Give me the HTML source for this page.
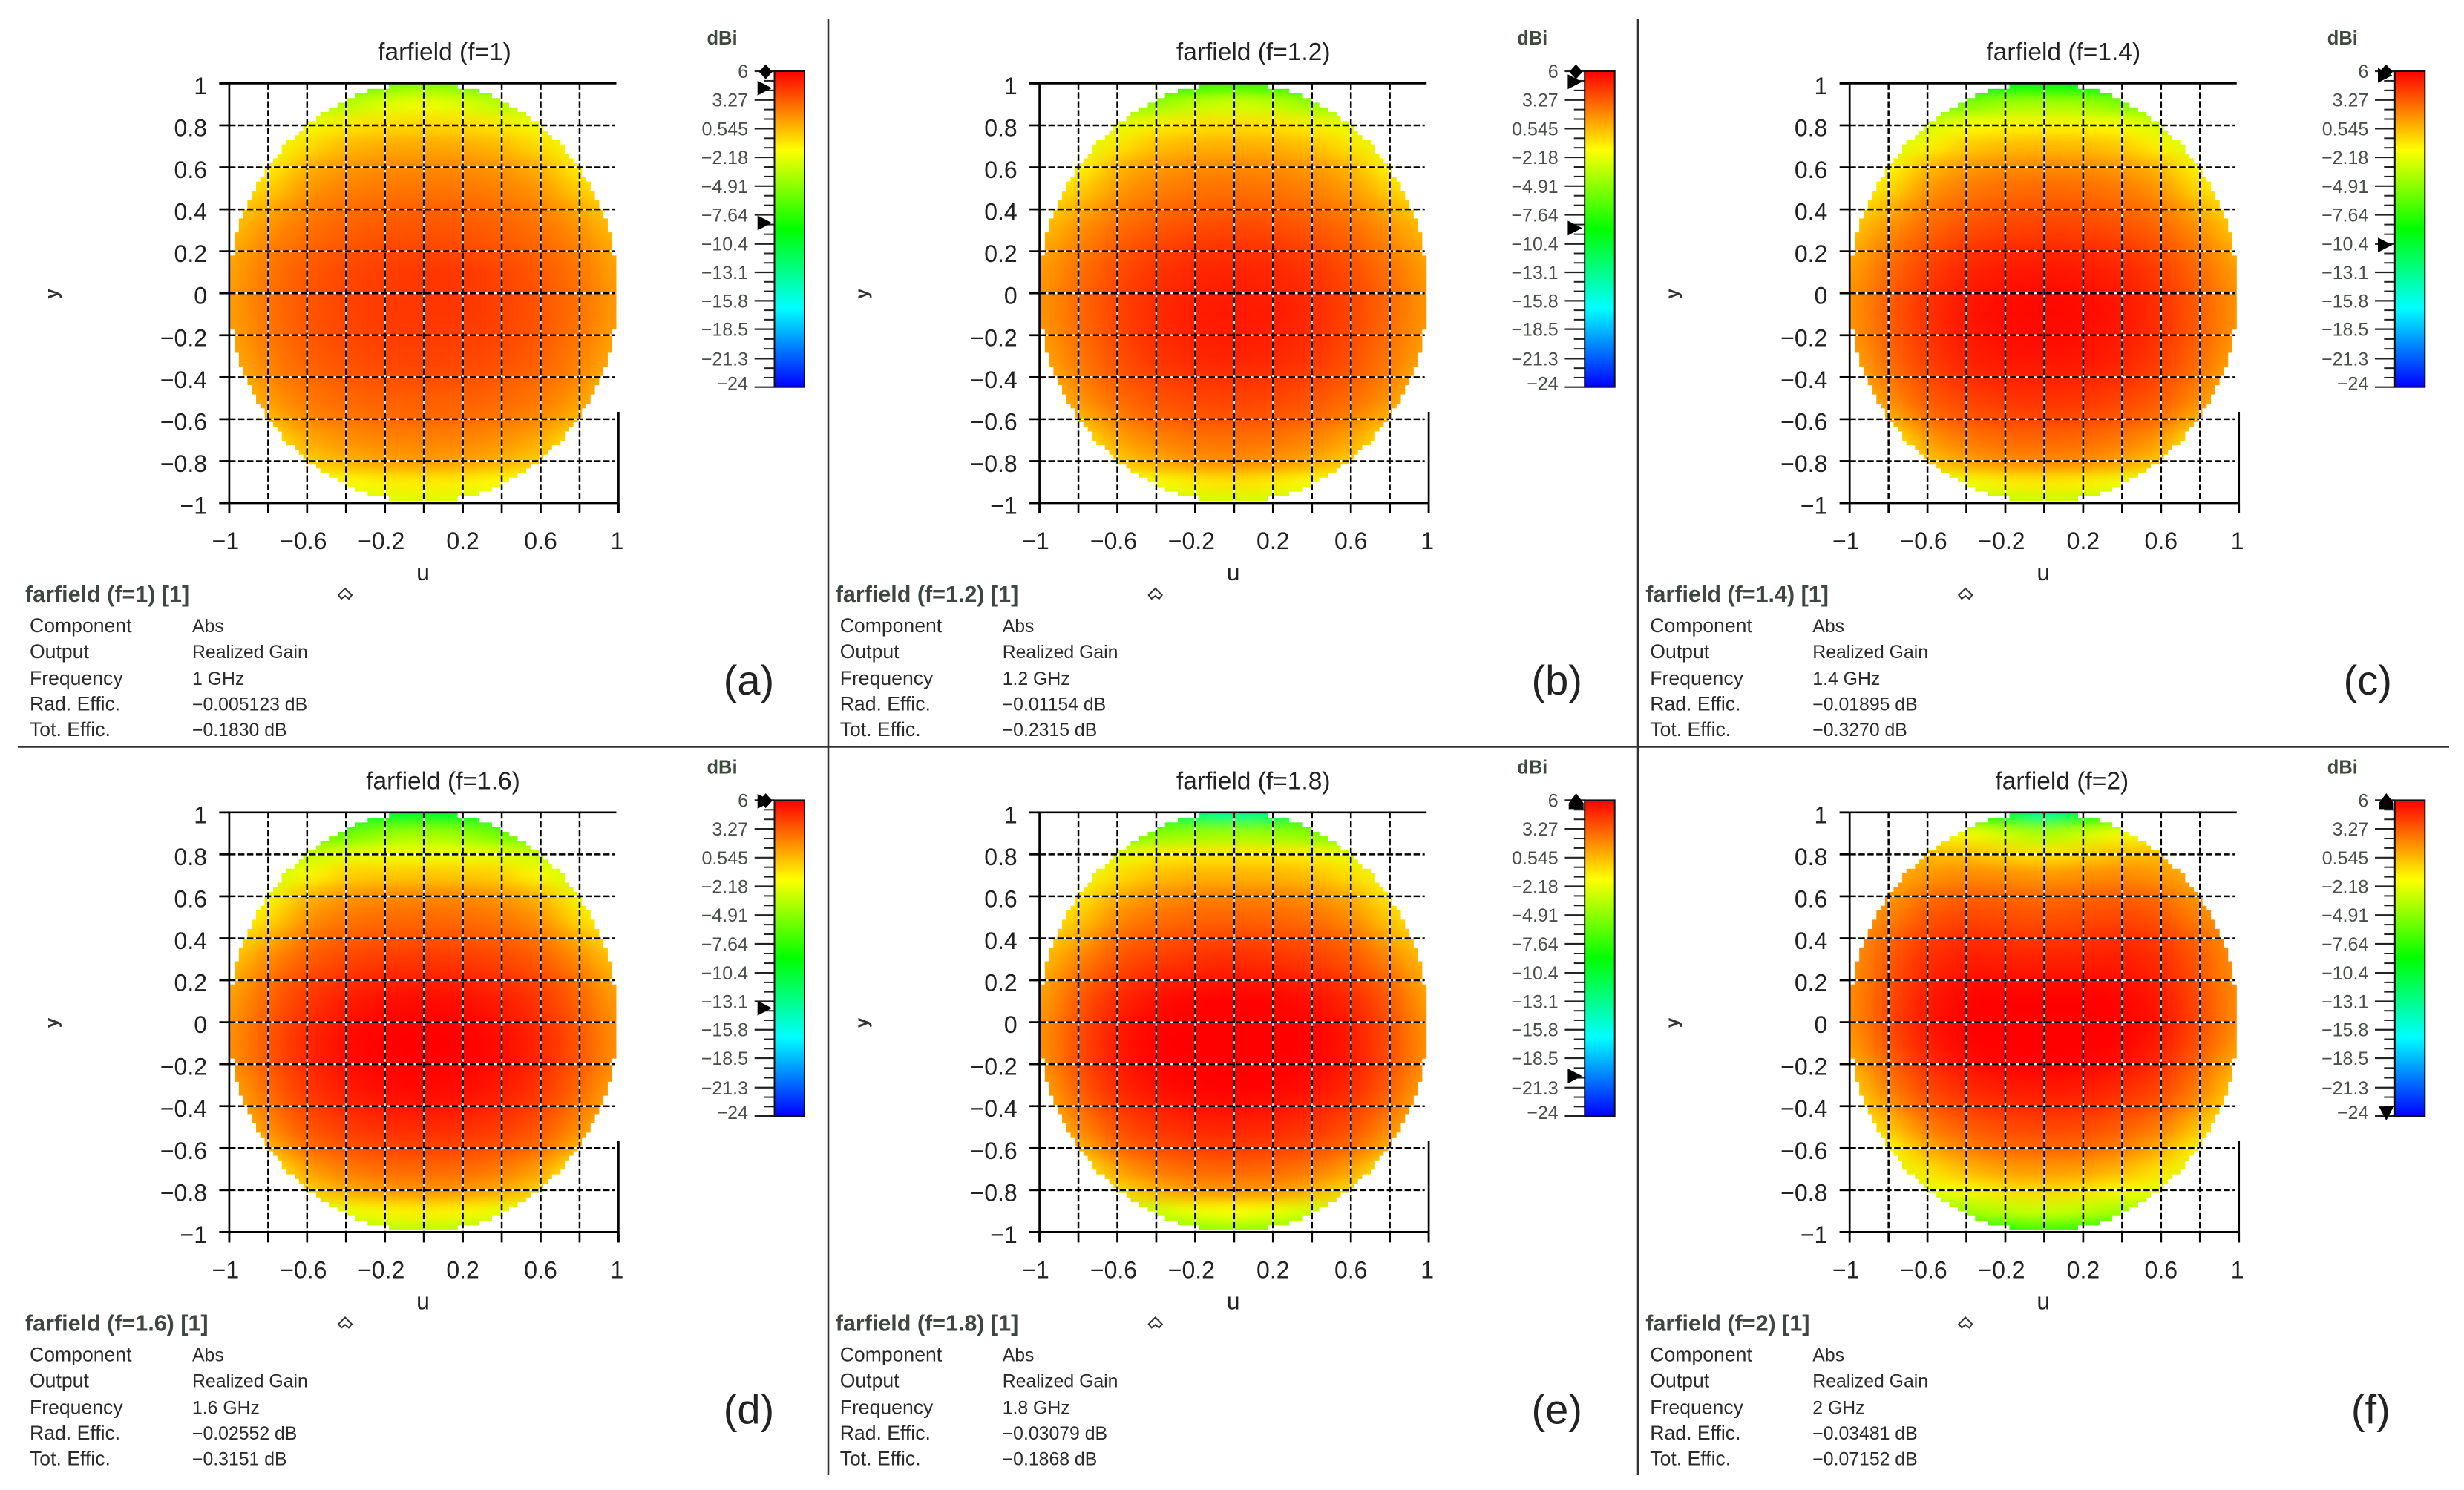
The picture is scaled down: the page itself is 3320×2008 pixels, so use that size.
<!DOCTYPE html>
<html lang="en">
<head>
<meta charset="utf-8">
<title>Farfield realized gain u-v maps, 1 to 2 GHz</title>
<style>
html,body{margin:0;padding:0;background:#fff;width:3320px;height:2008px;overflow:hidden}
svg{display:block}
text{font-family:"Liberation Sans",sans-serif}
.title{font-size:33.5px;fill:#222;text-anchor:middle}
.unit{font-size:25.5px;font-weight:bold;fill:#3f4a3f;text-anchor:middle}
.axis-name{font-size:32px;fill:#222;text-anchor:middle}
.axis-name-y{font-size:24px;font-weight:bold;fill:#333;text-anchor:middle}
.tick{font-size:32px;fill:#222}
.cb-tick{font-size:25px;fill:#4a4f4a;text-anchor:end}
.lg-title{font-size:30.5px;font-weight:bold;fill:#3f4540}
.lg{font-size:26.6px;fill:#2b2b2b}
.lg[x="259"]{font-size:24.8px}
.letter{font-size:56px;fill:#222;text-anchor:middle}
</style>
</head>
<body>
<svg id="figure" xmlns="http://www.w3.org/2000/svg" width="3320" height="2008" viewBox="0 0 3320 2008">
<defs>
  <filter id="smooth" filterUnits="userSpaceOnUse" x="180" y="-20" width="780" height="840" color-interpolation-filters="sRGB">
    <feGaussianBlur stdDeviation="24 9"/>
  </filter>
  <clipPath id="disc"><path id="disc-path" d=""/></clipPath>
  <linearGradient id="cb-gradient" x1="0" y1="0" x2="0" y2="1">
    <stop offset="0" stop-color="#ff0000"/><stop offset="0.25" stop-color="#ffff00"/><stop offset="0.5" stop-color="#00ff00"/><stop offset="0.75" stop-color="#00ffff"/><stop offset="1" stop-color="#0000ff"/>
  </linearGradient>
</defs>
<rect x="0" y="0" width="3320" height="2008" fill="#fff"/>

<g id="panel-a" transform="translate(0,0)">
  <text class="title" x="599" y="81">farfield (f=1)</text>
  <text class="unit" x="973" y="60">dBi</text>
  <text class="axis-name" x="570" y="782">u</text>
  <text class="axis-name-y" transform="translate(78,396) rotate(-90)">y</text>
  <text class="lg-title" x="34" y="811">farfield (f=1) [1]</text>
  <path d="M456 802 L465 793 L474 802 L470 807 L465 803 L460 807 Z" fill="none" stroke="#333" stroke-width="2"/>
  <text class="lg" x="40" y="852">Component</text><text class="lg" x="259" y="852">Abs</text>
  <text class="lg" x="40" y="887">Output</text><text class="lg" x="259" y="887">Realized Gain</text>
  <text class="lg" x="40" y="923">Frequency</text><text class="lg" x="259" y="923">1 GHz</text>
  <text class="lg" x="40" y="957.5">Rad. Effic.</text><text class="lg" x="259" y="957.5">−0.005123 dB</text>
  <text class="lg" x="40" y="992">Tot. Effic.</text><text class="lg" x="259" y="992">−0.1830 dB</text>
  <text class="letter" x="1009" y="936">(a)</text>
</g>

<g id="panel-b" transform="translate(1091.7,0)">
  <text class="title" x="597" y="81">farfield (f=1.2)</text>
  <text class="unit" x="973" y="60">dBi</text>
  <text class="axis-name" x="570" y="782">u</text>
  <text class="axis-name-y" transform="translate(78,396) rotate(-90)">y</text>
  <text class="lg-title" x="34" y="811">farfield (f=1.2) [1]</text>
  <path d="M456 802 L465 793 L474 802 L470 807 L465 803 L460 807 Z" fill="none" stroke="#333" stroke-width="2"/>
  <text class="lg" x="40" y="852">Component</text><text class="lg" x="259" y="852">Abs</text>
  <text class="lg" x="40" y="887">Output</text><text class="lg" x="259" y="887">Realized Gain</text>
  <text class="lg" x="40" y="923">Frequency</text><text class="lg" x="259" y="923">1.2 GHz</text>
  <text class="lg" x="40" y="957.5">Rad. Effic.</text><text class="lg" x="259" y="957.5">−0.01154 dB</text>
  <text class="lg" x="40" y="992">Tot. Effic.</text><text class="lg" x="259" y="992">−0.2315 dB</text>
  <text class="letter" x="1006" y="936">(b)</text>
</g>

<g id="panel-c" transform="translate(2183.3,0)">
  <text class="title" x="597" y="81">farfield (f=1.4)</text>
  <text class="unit" x="973" y="60">dBi</text>
  <text class="axis-name" x="570" y="782">u</text>
  <text class="axis-name-y" transform="translate(78,396) rotate(-90)">y</text>
  <text class="lg-title" x="34" y="811">farfield (f=1.4) [1]</text>
  <path d="M456 802 L465 793 L474 802 L470 807 L465 803 L460 807 Z" fill="none" stroke="#333" stroke-width="2"/>
  <text class="lg" x="40" y="852">Component</text><text class="lg" x="259" y="852">Abs</text>
  <text class="lg" x="40" y="887">Output</text><text class="lg" x="259" y="887">Realized Gain</text>
  <text class="lg" x="40" y="923">Frequency</text><text class="lg" x="259" y="923">1.4 GHz</text>
  <text class="lg" x="40" y="957.5">Rad. Effic.</text><text class="lg" x="259" y="957.5">−0.01895 dB</text>
  <text class="lg" x="40" y="992">Tot. Effic.</text><text class="lg" x="259" y="992">−0.3270 dB</text>
  <text class="letter" x="1007" y="936">(c)</text>
</g>

<g id="panel-d" transform="translate(0,982.4)">
  <text class="title" x="597" y="81">farfield (f=1.6)</text>
  <text class="unit" x="973" y="60">dBi</text>
  <text class="axis-name" x="570" y="782">u</text>
  <text class="axis-name-y" transform="translate(78,396) rotate(-90)">y</text>
  <text class="lg-title" x="34" y="811">farfield (f=1.6) [1]</text>
  <path d="M456 802 L465 793 L474 802 L470 807 L465 803 L460 807 Z" fill="none" stroke="#333" stroke-width="2"/>
  <text class="lg" x="40" y="852">Component</text><text class="lg" x="259" y="852">Abs</text>
  <text class="lg" x="40" y="887">Output</text><text class="lg" x="259" y="887">Realized Gain</text>
  <text class="lg" x="40" y="923">Frequency</text><text class="lg" x="259" y="923">1.6 GHz</text>
  <text class="lg" x="40" y="957.5">Rad. Effic.</text><text class="lg" x="259" y="957.5">−0.02552 dB</text>
  <text class="lg" x="40" y="992">Tot. Effic.</text><text class="lg" x="259" y="992">−0.3151 dB</text>
  <text class="letter" x="1009" y="936">(d)</text>
</g>

<g id="panel-e" transform="translate(1091.7,982.4)">
  <text class="title" x="597" y="81">farfield (f=1.8)</text>
  <text class="unit" x="973" y="60">dBi</text>
  <text class="axis-name" x="570" y="782">u</text>
  <text class="axis-name-y" transform="translate(78,396) rotate(-90)">y</text>
  <text class="lg-title" x="34" y="811">farfield (f=1.8) [1]</text>
  <path d="M456 802 L465 793 L474 802 L470 807 L465 803 L460 807 Z" fill="none" stroke="#333" stroke-width="2"/>
  <text class="lg" x="40" y="852">Component</text><text class="lg" x="259" y="852">Abs</text>
  <text class="lg" x="40" y="887">Output</text><text class="lg" x="259" y="887">Realized Gain</text>
  <text class="lg" x="40" y="923">Frequency</text><text class="lg" x="259" y="923">1.8 GHz</text>
  <text class="lg" x="40" y="957.5">Rad. Effic.</text><text class="lg" x="259" y="957.5">−0.03079 dB</text>
  <text class="lg" x="40" y="992">Tot. Effic.</text><text class="lg" x="259" y="992">−0.1868 dB</text>
  <text class="letter" x="1006" y="936">(e)</text>
</g>

<g id="panel-f" transform="translate(2183.3,982.4)">
  <text class="title" x="595" y="81">farfield (f=2)</text>
  <text class="unit" x="973" y="60">dBi</text>
  <text class="axis-name" x="570" y="782">u</text>
  <text class="axis-name-y" transform="translate(78,396) rotate(-90)">y</text>
  <text class="lg-title" x="34" y="811">farfield (f=2) [1]</text>
  <path d="M456 802 L465 793 L474 802 L470 807 L465 803 L460 807 Z" fill="none" stroke="#333" stroke-width="2"/>
  <text class="lg" x="40" y="852">Component</text><text class="lg" x="259" y="852">Abs</text>
  <text class="lg" x="40" y="887">Output</text><text class="lg" x="259" y="887">Realized Gain</text>
  <text class="lg" x="40" y="923">Frequency</text><text class="lg" x="259" y="923">2 GHz</text>
  <text class="lg" x="40" y="957.5">Rad. Effic.</text><text class="lg" x="259" y="957.5">−0.03481 dB</text>
  <text class="lg" x="40" y="992">Tot. Effic.</text><text class="lg" x="259" y="992">−0.07152 dB</text>
  <text class="letter" x="1011" y="936">(f)</text>
</g>

<line x1="1116" y1="26" x2="1116" y2="1988" stroke="#333" stroke-width="2.6"/>
<line x1="2207" y1="26" x2="2207" y2="1988" stroke="#333" stroke-width="2.6"/>
<line x1="24" y1="1006.5" x2="3300" y2="1006.5" stroke="#333" stroke-width="2.6"/>
</svg>

<script>
const uColumns = [-1,-0.8,-0.6,-0.4,-0.2,0,0.2,0.4,0.6,0.8,1];
const vRows = [1,0.9,0.8,0.7,0.6,0.5,0.4,0.3,0.2,0.1,0,-0.1,-0.2,-0.3,-0.4,-0.5,-0.6,-0.7,-0.8,-0.9,-1];
const gridValues = [-1,-0.8,-0.6,-0.4,-0.2,0,0.2,0.4,0.6,0.8,1];
const xTickValues = [-1,-0.6,-0.2,0.2,0.6,1];
const xTickLabels = ["−1","−0.6","−0.2","0.2","0.6","1"];
const yTickValues = [1,0.8,0.6,0.4,0.2,0,-0.2,-0.4,-0.6,-0.8,-1];
const yTickLabels = ["1","0.8","0.6","0.4","0.2","0","−0.2","−0.4","−0.6","−0.8","−1"];
const colorbarTicks = [6,3.27,0.545,-2.18,-4.91,-7.64,-10.4,-13.1,-15.8,-18.5,-21.3,-24];
const colorbarLabels = ["6","3.27","0.545","−2.18","−4.91","−7.64","−10.4","−13.1","−15.8","−18.5","−21.3","−24"];
const panelIds = ["panel-a","panel-b","panel-c","panel-d","panel-e","panel-f"];
const peakMarkers = [4.4,5,5.6,5.9,6,6];
const floorMarkers = [-8.4,-8.9,-10.5,-13.75,-20.2,-24];

const gainPanelA = [
[-6,-6,-6,-6,-5.6,-4.6,-5.6,-6,-6,-6,-6],
[-4,-4,-4,-3.6,-2.4,-1.9,-2.4,-3.6,-4,-4,-4],
[-2.5,-2.5,-1.8,-0.8,-0.4,-0.3,-0.4,-0.8,-1.8,-2.5,-2.5],
[-2,-2,-0.5,0.6,1,1.1,1,0.6,-0.5,-2,-2],
[-1.6,-1.2,0.8,1.6,1.9,2,1.9,1.6,0.8,-1.2,-1.6],
[-1,-0.2,1.6,2.2,2.5,2.6,2.5,2.2,1.6,-0.2,-1],
[-0.3,1,2.2,2.8,3.1,3.2,3.1,2.8,2.2,1,-0.3],
[0.3,1.8,2.7,3.2,3.5,3.6,3.5,3.2,2.7,1.8,0.3],
[0.8,2.3,3.1,3.6,3.9,4,3.9,3.6,3.1,2.3,0.8],
[1.1,2.6,3.4,3.9,4.2,4.4,4.4,4,3.4,2.6,1.1],
[1.2,2.7,3.5,4,4.3,4.4,4.4,4.1,3.5,2.7,1.3],
[1.2,2.7,3.5,4,4.3,4.4,4.4,4.1,3.5,2.7,1.3],
[1.1,2.6,3.4,3.9,4.2,4.3,4.2,4,3.4,2.6,1.1],
[0.8,2.3,3.2,3.7,4,4.1,4,3.8,3.2,2.3,0.8],
[0.4,2,2.9,3.4,3.7,3.8,3.7,3.4,2.9,2,0.4],
[-0.2,1.5,2.5,3,3.2,3.3,3.2,3,2.5,1.5,-0.2],
[-0.8,0.6,2,2.5,2.8,2.9,2.8,2.5,2,0.6,-0.8],
[-1,-1,1,1.7,2.1,2.2,2.1,1.7,1,-1,-1],
[-1.2,-1.2,0,0.8,1.3,1.4,1.3,0.8,0,-1.2,-1.2],
[-2,-2,-2,-1.6,-1,-0.9,-1,-1.6,-2,-2,-2],
[-3,-3,-3,-3,-2.7,-2.4,-2.7,-3,-3,-3,-3]];

const gainPanelB = [
[-8,-8,-8,-8,-7.6,-7,-7.6,-8,-8,-8,-8],
[-5,-5,-5,-4.5,-3.2,-2.8,-3.2,-4.5,-5,-5,-5],
[-3,-3,-2.2,-1,-0.6,-0.5,-0.6,-1,-2.2,-3,-3],
[-2.5,-2.5,-0.8,0.4,0.8,0.9,0.8,0.4,-0.8,-2.5,-2.5],
[-2,-1.4,0.7,1.5,1.9,2,1.9,1.5,0.7,-1.4,-2],
[-1.2,-0.3,1.5,2.2,2.6,2.7,2.6,2.2,1.5,-0.3,-1.2],
[-0.4,0.9,2.2,2.9,3.2,3.3,3.2,2.9,2.2,0.9,-0.4],
[0.3,1.8,2.9,3.5,3.9,4,3.9,3.5,2.9,1.8,0.3],
[0.9,2.3,3.4,4.1,4.5,4.6,4.5,4.1,3.4,2.3,0.9],
[1.3,2.7,3.8,4.5,4.9,5,4.9,4.5,3.8,2.7,1.3],
[1.5,2.9,4,4.7,5.1,5.2,5.1,4.7,4,2.9,1.5],
[1.5,2.9,4,4.8,5.2,5.3,5.2,4.8,4,2.9,1.5],
[1.3,2.8,3.9,4.7,5.1,5.2,5.1,4.7,3.9,2.8,1.3],
[1,2.5,3.7,4.5,4.9,5,4.9,4.5,3.7,2.5,1],
[0.5,2.2,3.4,4.1,4.5,4.6,4.5,4.1,3.4,2.2,0.5],
[-0.2,1.7,2.9,3.6,4,4.1,4,3.6,2.9,1.7,-0.2],
[-0.8,0.6,2.2,3,3.4,3.5,3.4,3,2.2,0.6,-0.8],
[-1.2,-1.2,1.2,2.1,2.6,2.7,2.6,2.1,1.2,-1.2,-1.2],
[-1.5,-1.5,0.1,1.1,1.7,1.9,1.7,1.1,0.1,-1.5,-1.5],
[-2.2,-2.2,-2.2,-1.7,-0.9,-0.6,-0.9,-1.7,-2.2,-2.2,-2.2],
[-3.4,-3.4,-3.4,-3.4,-3,-2.7,-3,-3.4,-3.4,-3.4,-3.4]];

const gainPanelC = [
[-10,-10,-10,-10,-9.6,-9,-9.6,-10,-10,-10,-10],
[-5.6,-5.6,-5.6,-5.2,-4.2,-3.9,-4.2,-5.2,-5.6,-5.6,-5.6],
[-3.6,-3.6,-2.8,-1.6,-1.2,-1.1,-1.2,-1.6,-2.8,-3.6,-3.6],
[-3,-3,-1.3,0.1,0.5,0.6,0.5,0.1,-1.3,-3,-3],
[-2.5,-1.7,0.6,1.5,1.9,2,1.9,1.5,0.6,-1.7,-2.5],
[-1.5,-0.6,1.6,2.4,2.8,2.9,2.8,2.4,1.6,-0.6,-1.5],
[-0.8,0.8,2.4,3.1,3.5,3.6,3.5,3.1,2.4,0.8,-0.8],
[0,1.8,3.1,3.8,4.1,4.2,4.1,3.8,3.1,1.8,0],
[0.7,2.5,3.7,4.5,4.8,4.9,4.8,4.5,3.7,2.5,0.7],
[1.2,2.9,4.2,5,5.3,5.4,5.3,5,4.2,2.9,1.2],
[1.5,3.2,4.5,5.3,5.6,5.7,5.6,5.3,4.5,3.2,1.5],
[1.5,3.3,4.6,5.4,5.7,5.8,5.7,5.4,4.6,3.3,1.5],
[1.4,3.2,4.5,5.3,5.6,5.7,5.6,5.3,4.5,3.2,1.4],
[1,2.9,4.3,5.1,5.4,5.5,5.4,5.1,4.3,2.9,1],
[0.5,2.5,3.9,4.7,5,5.1,5,4.7,3.9,2.5,0.5],
[-0.2,1.9,3.4,4.1,4.5,4.6,4.5,4.1,3.4,1.9,-0.2],
[-0.9,0.7,2.7,3.4,3.8,3.9,3.8,3.4,2.7,0.7,-0.9],
[-1.4,-1.4,1.5,2.4,2.9,3,2.9,2.4,1.5,-1.4,-1.4],
[-1.8,-1.8,0.2,1.3,1.9,2,1.9,1.3,0.2,-1.8,-1.8],
[-2.5,-2.5,-2.5,-1.9,-1,-0.8,-1,-1.9,-2.5,-2.5,-2.5],
[-3.8,-3.8,-3.8,-3.8,-3.4,-3,-3.4,-3.8,-3.8,-3.8,-3.8]];

const gainPanelD = [
[-11,-11,-11,-11,-10.4,-10,-10.4,-11,-11,-11,-11],
[-6.5,-6.5,-6.5,-6,-4.6,-4.2,-4.6,-6,-6.5,-6.5,-6.5],
[-4,-4,-3.2,-2.2,-1.9,-1.8,-1.9,-2.2,-3.2,-4,-4],
[-3.4,-3.4,-1.5,-0.1,0.1,0.2,0.1,-0.1,-1.5,-3.4,-3.4],
[-2.8,-1.9,0.6,1.6,1.9,2,1.9,1.6,0.6,-1.9,-2.8],
[-1.7,-0.7,1.7,2.5,2.8,2.9,2.8,2.5,1.7,-0.7,-1.7],
[-0.9,0.8,2.6,3.2,3.5,3.6,3.5,3.2,2.6,0.8,-0.9],
[0,1.9,3.3,4,4.3,4.4,4.3,4,3.3,1.9,0],
[0.7,2.7,4,4.6,5,5.1,5,4.6,4,2.7,0.7],
[1.2,3.1,4.4,5.2,5.6,5.7,5.6,5.2,4.4,3.1,1.2],
[1.5,3.4,4.7,5.5,5.9,6,5.9,5.5,4.7,3.4,1.5],
[1.6,3.5,4.9,5.7,6,6,6,5.7,4.9,3.5,1.6],
[1.5,3.4,4.8,5.6,5.9,6,5.9,5.6,4.8,3.4,1.5],
[1,3,4.5,5.3,5.7,5.8,5.7,5.3,4.5,3,1],
[0.5,2.6,4.1,4.9,5.3,5.4,5.3,4.9,4.1,2.6,0.5],
[-0.3,1.9,3.6,4.3,4.7,4.8,4.7,4.3,3.6,1.9,-0.3],
[-1,0.6,2.8,3.5,3.9,4,3.9,3.5,2.8,0.6,-1],
[-1.6,-1.6,1.4,2.4,2.9,3,2.9,2.4,1.4,-1.6,-1.6],
[-2,-2,-0.1,1,1.6,1.7,1.6,1,-0.1,-2,-2],
[-2.8,-2.8,-2.8,-2.1,-1.2,-1,-1.2,-2.1,-2.8,-2.8,-2.8],
[-4.2,-4.2,-4.2,-4.2,-3.8,-3.4,-3.8,-4.2,-4.2,-4.2,-4.2]];

const gainPanelE = [
[-10,-10,-10,-10,-12.5,-14,-12.5,-10,-10,-10,-10],
[-6.5,-6.5,-6.5,-5,-4.6,-4.3,-4.6,-5,-6.5,-6.5,-6.5],
[-3,-3,-2.2,-1,-0.8,-0.8,-0.8,-1,-2.2,-3,-3],
[-2.2,-2.2,-0.6,0.4,0.7,0.7,0.7,0.4,-0.6,-2.2,-2.2],
[-1.6,-1,0.9,1.8,2.1,2.2,2.1,1.8,0.9,-1,-1.6],
[-1,-0.1,1.9,2.7,3,3.1,3,2.7,1.9,-0.1,-1],
[-0.4,1,2.9,3.5,3.8,3.9,3.8,3.5,2.9,1,-0.4],
[0.2,2.1,3.6,4.2,4.6,4.7,4.6,4.2,3.6,2.1,0.2],
[0.7,2.9,4.3,5,5.3,5.4,5.3,5,4.3,2.9,0.7],
[1.1,3.4,4.9,5.6,5.9,6,5.9,5.6,4.9,3.4,1.1],
[1.4,3.7,5.2,5.9,6,6,6,5.9,5.2,3.7,1.4],
[1.5,3.8,5.3,6,6,6,6,6,5.3,3.8,1.5],
[1.4,3.7,5.2,5.9,6,6,6,5.9,5.2,3.7,1.4],
[1,3.3,4.9,5.6,5.9,6,5.9,5.6,4.9,3.3,1],
[0.4,2.8,4.4,5.1,5.5,5.6,5.5,5.1,4.4,2.8,0.4],
[-0.4,2,3.8,4.5,4.9,5,4.9,4.5,3.8,2,-0.4],
[-1.2,0.7,2.9,3.7,4.1,4.2,4.1,3.7,2.9,0.7,-1.2],
[-1.9,-1.9,1.4,2.5,3,3.1,3,2.5,1.4,-1.9,-1.9],
[-2.6,-2.6,-0.4,0.9,1.6,1.7,1.6,0.9,-0.4,-2.6,-2.6],
[-3.6,-3.6,-3.6,-2.8,-1.9,-1.6,-1.9,-2.8,-3.6,-3.6,-3.6],
[-5.6,-5.6,-5.6,-5.6,-5,-4.4,-5,-5.6,-5.6,-5.6,-5.6]];

const gainPanelF = [
[-8,-8,-8,-8,-10,-15,-10,-8,-8,-8,-8],
[-2.5,-2.5,-2.5,-1.4,-3,-4.2,-3,-1.4,-2.5,-2.5,-2.5],
[0.2,0.2,0.5,0.5,-0.2,-0.7,-0.2,0.5,0.5,0.2,0.2],
[0.8,0.8,1.6,2,1.8,1.5,1.8,2,1.6,0.8,0.8],
[1,1.4,2.8,3.2,3,2.8,3,3.2,2.8,1.4,1],
[1.2,2.1,3.6,4,3.8,3.6,3.8,4,3.6,2.1,1.2],
[1.4,3,4.2,4.7,4.5,4.3,4.5,4.7,4.2,3,1.4],
[1.5,3.4,4.7,5.2,5.1,5,5.1,5.2,4.7,3.4,1.5],
[1.6,3.6,5,5.6,5.6,5.6,5.6,5.6,5,3.6,1.6],
[1.7,3.8,5.3,5.9,6,6,6,5.9,5.3,3.8,1.7],
[1.6,3.9,5.4,6,6,6,6,6,5.4,3.9,1.6],
[1.2,3.6,5.2,5.9,6,6,6,5.9,5.2,3.6,1.2],
[0.6,3,4.7,5.5,5.9,6,5.9,5.5,4.7,3,0.6],
[-0.2,2.4,4.1,4.9,5.3,5.4,5.3,4.9,4.1,2.4,-0.2],
[-0.9,1.5,3.4,4.2,4.7,4.8,4.7,4.2,3.4,1.5,-0.9],
[-1.5,0.1,2.4,3.3,3.9,4,3.9,3.3,2.4,0.1,-1.5],
[-2,-1.5,1,2.2,2.9,3,2.9,2.2,1,-1.5,-2],
[-2.6,-2.6,-0.7,0.7,1.4,1.6,1.4,0.7,-0.7,-2.6,-2.6],
[-3.2,-3.2,-2.2,-1.4,-0.5,-0.2,-0.5,-1.4,-2.2,-3.2,-3.2],
[-4.6,-4.6,-4.6,-4.2,-3.4,-3,-3.4,-4.2,-4.6,-4.6,-4.6],
[-8,-8,-8,-8,-8,-7,-8,-8,-8,-8,-8]];

const allGains = [gainPanelA,gainPanelB,gainPanelC,gainPanelD,gainPanelE,gainPanelF];

const NS = "http://www.w3.org/2000/svg";
const xScale = u => 308.9 + (u + 1) * 262.25;
const yScale = v => 112.4 + (1 - v) * 282.8;
const cbScale = g => 96 + (6 - g) * 425.7 / 30;

function gainColor(g) {
  const t = Math.min(1, Math.max(0, (6 - g) / 30)) * 4;
  const k = Math.min(3, Math.floor(t));
  const f = t - k;
  let r = 0, gr = 0, b = 0;
  if (k === 0) { r = 255; gr = 255 * f; }
  if (k === 1) { r = 255 * (1 - f); gr = 255; }
  if (k === 2) { gr = 255; b = 255 * f; }
  if (k === 3) { gr = 255 * (1 - f); b = 255; }
  return "rgb(" + Math.round(r) + "," + Math.round(gr) + "," + Math.round(b) + ")";
}

function make(tag, attrs, parent) {
  const el = document.createElementNS(NS, tag);
  for (const key in attrs) el.setAttribute(key, attrs[key]);
  parent.appendChild(el);
  return el;
}

(function buildDiscClip() {
  const cells = 90, left = 310.3, top = 113.5, cw = 520.2 / cells, ch = 561.5 / cells;
  let d = "";
  for (let j = 0; j < cells; j++) {
    const ry = (j + 0.5 - cells / 2) / (cells / 2);
    const room = 1.013 - ry * ry;
    if (room <= 0) continue;
    const half = Math.floor(Math.sqrt(room) * (cells / 2) + 0.5);
    const x0 = left + (cells / 2 - half) * cw;
    const x1 = left + (cells / 2 + half) * cw;
    const y0 = top + j * ch;
    d += "M" + x0.toFixed(2) + " " + y0.toFixed(2) + "H" + x1.toFixed(2) + "V" + (y0 + ch + 0.1).toFixed(2) + "H" + x0.toFixed(2) + "Z";
  }
  document.getElementById("disc-path").setAttribute("d", d);
})();

function drawHeatmap(panel, gains) {
  const clipG = make("g", { "clip-path": "url(#disc)" }, panel);
  
  
  const blurG = make("g", { filter: "url(#smooth)" }, clipG);
  
  
  const cw = Math.abs(xScale(uColumns[1]) - xScale(uColumns[0]));
  const ch = Math.abs(yScale(vRows[1]) - yScale(vRows[0]));
  vRows.forEach((v, r) => {
    uColumns.forEach((u, c) => {
      let x = xScale(u) - cw / 2, y = yScale(v) - ch / 2, w = cw + 0.6, h = ch + 0.6;
      if (c === 0) { x -= 80; w += 80; }
      if (c === uColumns.length - 1) { w += 80; }
      if (r === 0) { y -= 60; h += 60; }
      if (r === vRows.length - 1) { h += 60; }
      const cell = make("rect", { x: x, y: y, width: w, height: h, fill: gainColor(gains[r][c]) }, blurG);
      
      
    });
  });
}

function drawAxes(panel) {
  const xL = xScale(-1), xR = xScale(1), yT = yScale(1), yB = yScale(-1);
  const tickEnd = yB + 14, tickStart = xL - 13.5;
  gridValues.forEach(val => {
    const y = yScale(val), x = xScale(val);
    if (val !== 1 && val !== -1) {
      const wh = make("line", { x1: xL, y1: y, x2: 828, y2: y, stroke: "#fff", "stroke-width": 2.2 }, panel);
      
      
      const wv = make("line", { x1: x, y1: yT, x2: x, y2: yB, stroke: "#fff", "stroke-width": 2.2 }, panel);
      
      
      const gh = make("line", { x1: xL, y1: y, x2: 828, y2: y, stroke: "#000", "stroke-width": 2.5, "stroke-dasharray": "8.5 3.5" }, panel);
      
      
      const gv = make("line", { x1: x, y1: yT, x2: x, y2: yB, stroke: "#000", "stroke-width": 2.5, "stroke-dasharray": "8.5 3.5" }, panel);
      
      
    }
    const ty = make("line", { x1: tickStart, y1: y, x2: xL, y2: y, stroke: "#000", "stroke-width": 2.7 }, panel);
    
    
    const tx = make("line", { x1: x, y1: yB, x2: x, y2: tickEnd, stroke: "#000", "stroke-width": 2.7 }, panel);
    
    
  });
  const topLine = make("line", { x1: tickStart, y1: yT, x2: 830.5, y2: yT, stroke: "#000", "stroke-width": 2.7 }, panel);
  
  
  const bottomLine = make("line", { x1: tickStart, y1: yB, x2: xR, y2: yB, stroke: "#000", "stroke-width": 2.7 }, panel);
  
  
  const leftLine = make("line", { x1: xL, y1: yT, x2: xL, y2: tickEnd, stroke: "#000", "stroke-width": 2.7 }, panel);
  
  
  const rightLine = make("line", { x1: xR, y1: 555, x2: xR, y2: tickEnd, stroke: "#000", "stroke-width": 2.7 }, panel);
  
  

  yTickValues.forEach((val, i) => {
    const t = make("text", { class: "tick", x: 279, y: yScale(val) + 14.5, "text-anchor": "end" }, panel);
    
    
    t.textContent = yTickLabels[i];
  });
  xTickValues.forEach((val, i) => {
    const shift = val < 0 ? -5 : (val === 1 ? -2 : 0);
    const t = make("text", { class: "tick", x: xScale(val) + shift, y: 740, "text-anchor": "middle" }, panel);
    
    
    t.textContent = xTickLabels[i];
  });
}

function drawColorbar(panel, peak, floor, index) {
  const yTop = cbScale(6), yBot = cbScale(-24);
  colorbarTicks.forEach((val, i) => {
    const y = cbScale(val);
    const tick = make("line", { x1: 1016.7, y1: y, x2: 1043, y2: y, stroke: "#222", "stroke-width": 2.2 }, panel);
    
    
    const lift = i === colorbarTicks.length - 1 ? -5 : 0;
    const label = make("text", { class: "cb-tick", x: 1008, y: y + 9 + lift }, panel);
    
    
    label.textContent = colorbarLabels[i];
    if (i < colorbarTicks.length - 1) {
      const next = cbScale(colorbarTicks[i + 1]);
      [1, 2].forEach(k => {
        const my = y + (next - y) * k / 3;
        const minor = make("line", { x1: 1029, y1: my, x2: 1043, y2: my, stroke: "#222", "stroke-width": 2 }, panel);
        
        
      });
    }
  });
  const bar = make("rect", { x: 1043.5, y: yTop, width: 40.5, height: yBot - yTop, fill: "url(#cb-gradient)", stroke: "#111", "stroke-width": 2 }, panel);
  
  

  const py = cbScale(peak), fy = cbScale(floor);
  const useArrows = index >= 4;
  if (useArrows) {
    const up = make("polygon", { points: "1032,86.6 1042,100 1042,108 1022,108 1022,100", fill: "#000" }, panel);
    
    
  } else {
    const dia = make("polygon", { points: "1031.7,86.7 1040.7,96.7 1031.7,106.7 1022.7,96.7", fill: "#000" }, panel);
    
    
    const tri = make("polygon", { points: "1020.7," + (py - 10) + " 1040," + py + " 1020.7," + (py + 10), fill: "#000" }, panel);
    
    
  }
  if (floor <= -24) {
    const down = make("polygon", { points: "1022," + (fy - 13) + " 1042," + (fy - 13) + " 1032," + (fy + 6), fill: "#000" }, panel);
    
    
  } else {
    const tri2 = make("polygon", { points: "1020.7," + (fy - 10) + " 1040," + fy + " 1020.7," + (fy + 10), fill: "#000" }, panel);
    
    
  }
}

panelIds.forEach((id, i) => {
  const panel = document.getElementById(id);
  drawHeatmap(panel, allGains[i]);
  drawAxes(panel);
  drawColorbar(panel, peakMarkers[i], floorMarkers[i], i);
});
</script>
</body>
</html>
